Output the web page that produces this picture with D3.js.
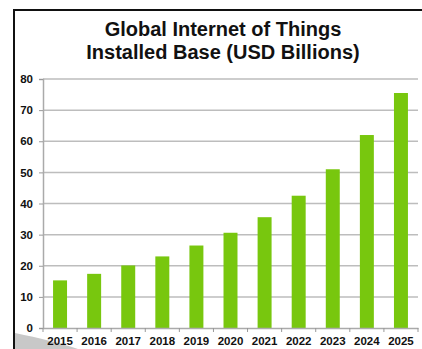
<!DOCTYPE html>
<html>
<head>
<meta charset="utf-8">
<script src="https://cdn.jsdelivr.net/npm/d3@7"></script>
<style>
  body { margin: 0; background: #fff; }
  svg { display: block; font-family: "Liberation Sans", Arial, sans-serif; }
</style>
</head>
<body>
<svg id="chart" width="422" height="349"></svg>
<script>
// data
var years = ["2015", "2016", "2017", "2018", "2019", "2020", "2021", "2022", "2023", "2024", "2025"];
var values = [15.3, 17.4, 20.1, 23.0, 26.5, 30.6, 35.6, 42.5, 51.0, 62.0, 75.5];
var yTicks = [0, 10, 20, 30, 40, 50, 60, 70, 80];
var titleLines = ["Global Internet of Things", "Installed Base (USD Billions)"];

var svg = d3.select("#chart"),
    width = +svg.attr("width"),
    height = +svg.attr("height");

var margin = {left: 43, right: 4, top: 79, bottom: 21};

var x = d3.scaleBand()
    .domain(years)
    .range([margin.left, width - margin.right])
    .paddingInner(0.59)
    .paddingOuter(0.295);

var y = d3.scaleLinear()
    .domain([0, 80])
    .range([height - margin.bottom, margin.top]);

// slide frame
svg.append("path")
    .attr("d", "M14,349 L14,10 L422,10")
    .attr("fill", "none")
    .attr("stroke", "#111")
    .attr("stroke-width", 2);

// grey wedge at bottom left
svg.append("path")
    .attr("d", "M15,333 C40,338 60,343 78,349 L15,349 Z")
    .attr("fill", "#c8c8c8");

// title
svg.append("g").selectAll("text")
    .data(titleLines).enter()
    .append("text")
    .attr("x", 223)
    .attr("y", function(d, i) { return 36 + i * 22.5; })
    .attr("text-anchor", "middle")
    .attr("font-size", "20px")
    .attr("font-weight", "bold")
    .attr("fill", "#111")
    .text(function(d) { return d; });

// grid lines
svg.append("g").selectAll("line")
    .data(yTicks.slice(1)).enter()
    .append("line")
    .attr("x1", margin.left)
    .attr("x2", width - margin.right)
    .attr("y1", function(d) { return y(d); })
    .attr("y2", function(d) { return y(d); })
    .attr("stroke", "#bdbdbd")
    .attr("stroke-width", 1.5);

// bars
svg.append("g").selectAll("rect")
    .data(values).enter()
    .append("rect")
    .attr("x", function(d, i) { return x(years[i]); })
    .attr("width", x.bandwidth())
    .attr("y", function(d) { return y(d); })
    .attr("height", function(d) { return y(0) - y(d); })
    .attr("fill", "#78c70e");

// y axis
var yAxis = svg.append("g")
    .attr("transform", "translate(" + margin.left + ",0)")
    .call(d3.axisLeft(y).tickValues(yTicks).tickSize(4).tickPadding(6));

// x axis with ticks between categories
var xAxis = svg.append("g")
    .attr("transform", "translate(0," + y(0) + ")")
    .call(d3.axisBottom(x).tickSize(0).tickPadding(9));

var step = x.step();
xAxis.selectAll(".sep")
    .data(d3.range(years.length + 1)).enter()
    .append("line")
    .attr("class", "sep")
    .attr("x1", function(i) { return margin.left + i * step; })
    .attr("x2", function(i) { return margin.left + i * step; })
    .attr("y1", 0)
    .attr("y2", 4)
    .attr("stroke", "#999");

svg.selectAll(".domain").attr("stroke", "#aaa").attr("stroke-width", 1.5);
yAxis.selectAll(".tick line").attr("stroke", "#999");
svg.selectAll(".tick text")
    .attr("font-family", "'Liberation Sans', Arial, sans-serif")
    .attr("font-size", "11.5px")
    .attr("font-weight", "bold")
    .attr("fill", "#111");
</script>
</body>
</html>
